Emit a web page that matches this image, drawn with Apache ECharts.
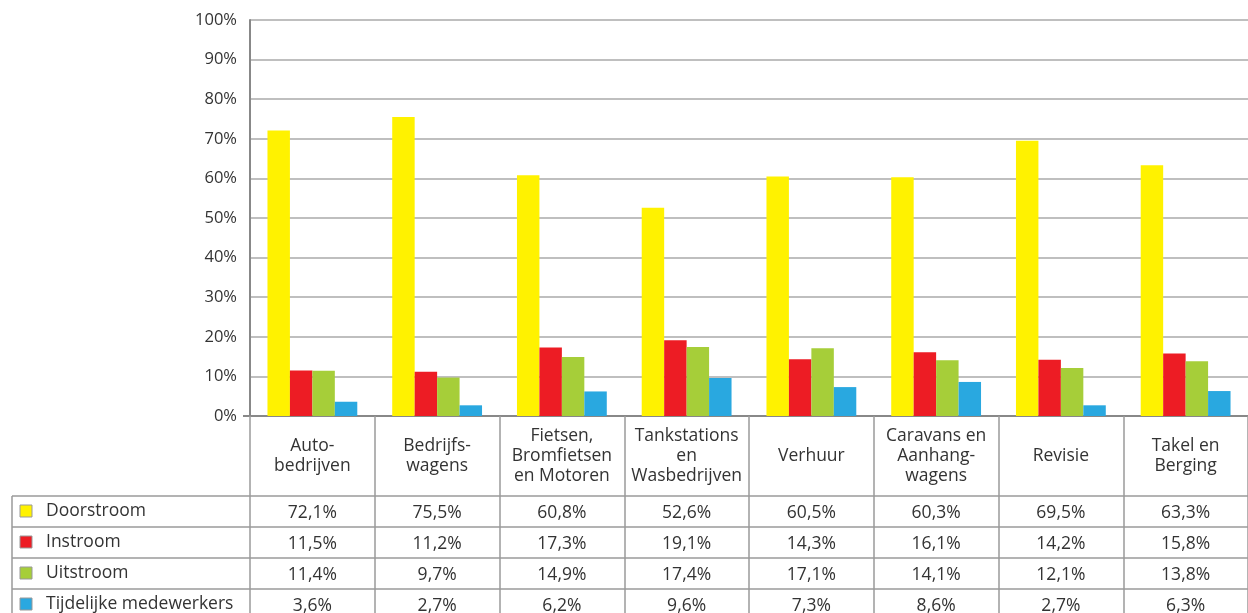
<!DOCTYPE html>
<html>
<head>
<meta charset="utf-8">
<script src="https://cdn.jsdelivr.net/npm/echarts@6/dist/echarts.min.js"></script>
<style>
  html, body { margin: 0; padding: 0; background: #fff; }
  #chart { width: 1248px; height: 613px; }
</style>
</head>
<body>
<div id="chart"></div>
<script>
// categorieën (as en tabelkop)
const categories = [
  'Auto-\nbedrijven',
  'Bedrijfs-\nwagens',
  'Fietsen,\nBromfietsen\nen Motoren',
  'Tankstations\nen\nWasbedrijven',
  'Verhuur',
  'Caravans en\nAanhang-\nwagens',
  'Revisie',
  'Takel en\nBerging'
]
// reeksnamen
const seriesNames = ['Doorstroom', 'Instroom', 'Uitstroom', 'Tijdelijke medewerkers']
// waarden in procenten
const doorstroom = [72.1, 75.5, 60.8, 52.6, 60.5, 60.3, 69.5, 63.3]
const instroom = [11.5, 11.2, 17.3, 19.1, 14.3, 16.1, 14.2, 15.8]
const uitstroom = [11.4, 9.7, 14.9, 17.4, 17.1, 14.1, 12.1, 13.8]
const tijdelijk = [3.6, 2.7, 6.2, 9.6, 7.3, 8.6, 2.7, 6.3]
// y-as
const yMin = 0
const yMax = 100
const yStep = 10

const colors = ['#FFF200', '#ED1C24', '#A6CE39', '#29A8E0']
const allData = [doorstroom, instroom, uitstroom, tijdelijk]
const fontFamily = '"Open Sans", Lato, sans-serif'
const lineColor = '#9a9a9a'
const txtSize = 17.5

const chart = echarts.init(document.getElementById('chart'))

const option = {
  animation: false,
  textStyle: { fontFamily: fontFamily },
  grid: { left: 250, right: 0, top: 20, bottom: 197 },
  xAxis: {
    type: 'category',
    data: categories,
    axisLine: { lineStyle: { color: '#888', width: 2 } },
    axisTick: { show: true, length: 197, interval: 0, lineStyle: { color: lineColor, width: 1.5 } },
    axisLabel: {
      interval: 0,
      margin: 40,
      verticalAlign: 'middle',
      color: '#333',
      fontSize: txtSize,
      lineHeight: 20,
      fontFamily: fontFamily
    }
  },
  yAxis: {
    type: 'value',
    min: yMin,
    max: yMax,
    interval: yStep,
    axisLine: { show: true, lineStyle: { color: '#888', width: 2 } },
    axisTick: { show: false },
    axisLabel: { formatter: '{value}%', color: '#333', fontSize: 16.5, margin: 13, fontFamily: fontFamily },
    splitLine: { lineStyle: { color: '#aaa', width: 1.5 } }
  },
  series: seriesNames.map((name, i) => ({
    name: name,
    type: 'bar',
    data: allData[i],
    barGap: '0%',
    barCategoryGap: '28%',
    itemStyle: { color: colors[i] }
  }))
}
chart.setOption(option)

// tabel onder de grafiek, kolommen via de categorie-as
const rowTop = 496
const rowH = 31
const tableLeft = 12
const tableRight = 1248
const graphics = []

// verlengde nullijn links
graphics.push({
  type: 'line',
  shape: { x1: 243, y1: 416, x2: 250, y2: 416 },
  style: { stroke: '#888', lineWidth: 2 }
})

for (let r = 0; r < seriesNames.length; r++) {
  const y = rowTop + r * rowH
  graphics.push({
    type: 'line',
    shape: { x1: tableLeft, y1: y, x2: tableRight, y2: y },
    style: { stroke: lineColor, lineWidth: 1.5 }
  })
  // legendablokje
  graphics.push({
    type: 'rect',
    shape: { x: 20, y: y + 9, width: 12, height: 12 },
    style: { fill: colors[r], stroke: '#999', lineWidth: 1 }
  })
  graphics.push({
    type: 'text',
    style: {
      x: 46, y: y + 15, text: seriesNames[r],
      font: txtSize + 'px ' + fontFamily, fill: '#333', verticalAlign: 'middle'
    }
  })
  // waarden per kolom
  categories.forEach((c, k) => {
    const cx = chart.convertToPixel({ xAxisIndex: 0 }, k)
    graphics.push({
      type: 'text',
      style: {
        x: cx, y: y + 17,
        text: allData[r][k].toFixed(1).replace('.', ',') + '%',
        font: txtSize + 'px ' + fontFamily, fill: '#333',
        align: 'center', verticalAlign: 'middle'
      }
    })
  })
}
// linker rand van de legendakolom
graphics.push({
  type: 'line',
  shape: { x1: tableLeft, y1: rowTop, x2: tableLeft, y2: 613 },
  style: { stroke: lineColor, lineWidth: 1.5 }
})

chart.setOption({ graphic: graphics })
</script>
</body>
</html>
